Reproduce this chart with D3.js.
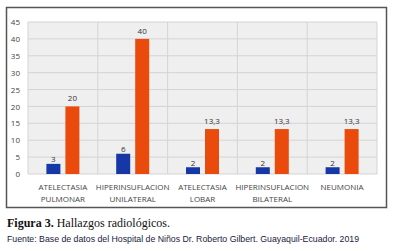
<!DOCTYPE html>
<html>
<head>
<meta charset="utf-8">
<script src="https://cdn.jsdelivr.net/npm/d3@7"></script>
<style>
  body { margin: 0; background: #fff; }
  svg { display: block; }
</style>
</head>
<body>
<div id="chart"></div>
<script>
// Chart data
const categories = [
    ["ATELECTASIA", "PULMONAR"],
    ["HIPERINSUFLACION", "UNILATERAL"],
    ["ATELECTASIA", "LOBAR"],
    ["HIPERINSUFLACION", "BILATERAL"],
    ["NEUMONIA"]
];
const blueValues = [3, 6, 2, 2, 2];
const orangeValues = [20, 40, 13.3, 13.3, 13.3];
const yTicks = [0, 5, 10, 15, 20, 25, 30, 35, 40, 45];

const width = 396, height = 251;
const plot = { left: 28, right: 377, top: 22, bottom: 174 };

const svg = d3.select("#chart").append("svg")
    .attr("width", width)
    .attr("height", height);

// Outer frame
svg.append("rect")
    .attr("x", 6.5).attr("y", 7.5)
    .attr("width", 380).attr("height", 200)
    .attr("fill", "#fff")
    .attr("stroke", "#555")
    .attr("stroke-width", 1.5);

// Scales
const x0 = d3.scaleBand()
    .domain(d3.range(categories.length))
    .range([plot.left, plot.right]);

const y = d3.scaleLinear()
    .domain([0, 45])
    .range([plot.bottom, plot.top]);

// Plot background
svg.append("rect")
    .attr("x", plot.left).attr("y", plot.top)
    .attr("width", plot.right - plot.left)
    .attr("height", plot.bottom - plot.top)
    .attr("fill", "#efefef");

// Horizontal gridlines
svg.append("g")
    .selectAll("line")
    .data(yTicks)
    .enter().append("line")
    .attr("x1", plot.left).attr("x2", plot.right)
    .attr("y1", d => y(d)).attr("y2", d => y(d))
    .attr("stroke", "#d4d4d4")
    .attr("stroke-width", 1);

// Vertical gridlines at category boundaries
svg.append("g")
    .selectAll("line")
    .data(d3.range(categories.length + 1))
    .enter().append("line")
    .attr("x1", d => d < categories.length ? x0(d) : plot.right)
    .attr("x2", d => d < categories.length ? x0(d) : plot.right)
    .attr("y1", plot.top).attr("y2", plot.bottom)
    .attr("stroke", "#d4d4d4")
    .attr("stroke-width", 1);

// Y axis labels
const yAxis = svg.append("g")
    .attr("transform", `translate(${plot.left - 4},0)`)
    .call(d3.axisLeft(y).tickValues(yTicks).tickSize(0).tickPadding(4));
yAxis.select(".domain").remove();
yAxis.selectAll("text")
    .style("font-family", "'Open Sans', sans-serif")
    .style("font-size", "8px")
    .style("fill", "#444");

// Bars
const barW = 14, gap = 5;
const fmt = v => String(v).replace(".", ",");

const groups = svg.append("g")
    .selectAll("g")
    .data(categories.map((c, i) => ({ i, blue: blueValues[i], orange: orangeValues[i] })))
    .enter().append("g");

groups.append("rect")
    .attr("x", d => x0(d.i) + x0.bandwidth() / 2 - gap / 2 - barW)
    .attr("y", d => y(d.blue))
    .attr("width", barW)
    .attr("height", d => y(0) - y(d.blue))
    .attr("fill", "#1538a6");

groups.append("rect")
    .attr("x", d => x0(d.i) + x0.bandwidth() / 2 + gap / 2)
    .attr("y", d => y(d.orange))
    .attr("width", barW)
    .attr("height", d => y(0) - y(d.orange))
    .attr("fill", "#ea4a0c");

// Value labels
groups.append("text")
    .attr("x", d => x0(d.i) + x0.bandwidth() / 2 - gap / 2 - barW / 2)
    .attr("y", d => y(d.blue) - 1.5)
    .attr("text-anchor", "middle")
    .style("font-family", "'Open Sans', sans-serif")
    .style("font-size", "8px")
    .style("fill", "#333")
    .text(d => fmt(d.blue));

groups.append("text")
    .attr("x", d => x0(d.i) + x0.bandwidth() / 2 + gap / 2 + barW / 2)
    .attr("y", d => y(d.orange) - 5)
    .attr("text-anchor", "middle")
    .style("font-family", "'Open Sans', sans-serif")
    .style("font-size", "8px")
    .style("fill", "#333")
    .text(d => fmt(d.orange));

// Category labels
groups.each(function(d) {
    const t = d3.select(this).append("text")
        .attr("text-anchor", "middle")
        .style("font-family", "'Open Sans', sans-serif")
        .style("font-size", "8px")
        .style("fill", "#444");
    categories[d.i].forEach((line, k) => {
        t.append("tspan")
            .attr("x", x0(d.i) + x0.bandwidth() / 2)
            .attr("y", 190 + k * 12)
            .text(line);
    });
});

// Caption
const cap = svg.append("text")
    .attr("x", 7).attr("y", 227)
    .style("font-family", "'Liberation Serif', serif")
    .style("font-size", "12px")
    .style("fill", "#111");
cap.append("tspan").style("font-weight", "bold").text("Figura 3.");
cap.append("tspan").text(" Hallazgos radiológicos.");

svg.append("text")
    .attr("x", 7).attr("y", 242)
    .attr("textLength", 352)
    .attr("lengthAdjust", "spacingAndGlyphs")
    .style("font-family", "'Liberation Sans', sans-serif")
    .style("font-size", "9.5px")
    .style("fill", "#1a1a40")
    .text("Fuente: Base de datos del Hospital de Niños Dr. Roberto Gilbert. Guayaquil-Ecuador. 2019");
</script>
</body>
</html>
